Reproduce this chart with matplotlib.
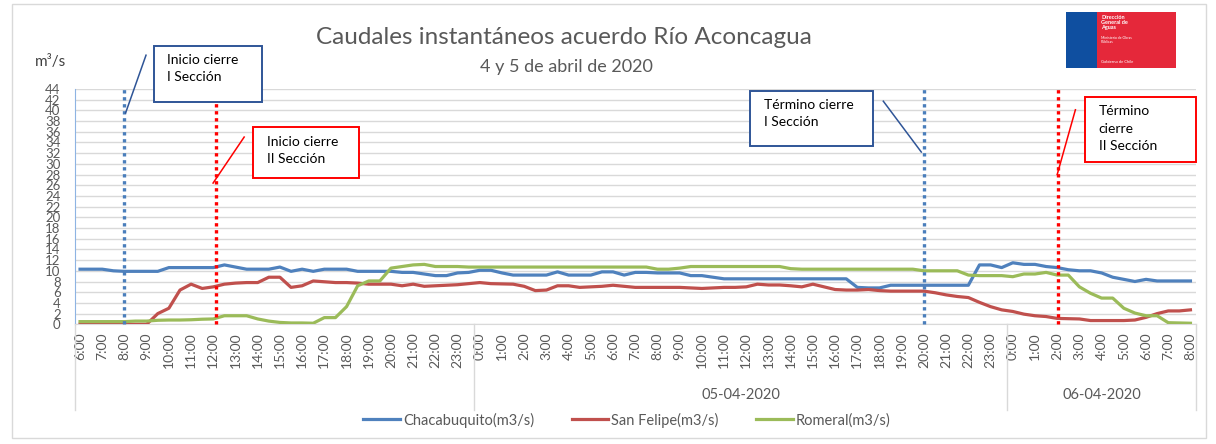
import numpy as np
import matplotlib
matplotlib.use("Agg")
import matplotlib.pyplot as plt
from matplotlib.patches import Rectangle
from matplotlib.transforms import blended_transform_factory

plt.rcParams['font.family'] = ['Lato', 'DejaVu Sans']

# half-hourly readings, 04-04-2020 06:00 -> 06-04-2020 08:00 (m3/s)
chacabuquito = [
    10.3, 10.3, 10.3, 10.0, 9.9, 9.9, 9.9, 9.9, 10.6, 10.6, 10.6, 10.6, 10.6, 11.1,
    10.7, 10.3, 10.3, 10.3, 10.7, 9.9, 10.3, 9.9, 10.3, 10.3, 10.3, 9.9, 9.9, 9.9,
    9.9, 9.7, 9.7, 9.4, 9.1, 9.1, 9.6, 9.7,
    10.1, 10.1, 9.6, 9.2, 9.2, 9.2, 9.2, 9.8, 9.2, 9.2, 9.2, 9.8, 9.8, 9.2,
    9.7, 9.7, 9.6, 9.6, 9.6, 9.1, 9.1, 8.8, 8.5, 8.5, 8.5, 8.5, 8.5, 8.5,
    8.5, 8.5, 8.5, 8.5, 8.5, 8.5, 6.9, 6.8, 6.8, 7.3, 7.3, 7.3, 7.3, 7.3,
    7.3, 7.3, 7.3, 11.1, 11.1, 10.6,
    11.5, 11.2, 11.2, 10.8, 10.6, 10.2, 10.0, 10.0, 9.6, 8.8, 8.4, 8.0, 8.4, 8.1,
    8.1, 8.1, 8.1,
]
san_felipe = [
    0.0, 0.0, 0.0, 0.0, 0.0, 0.0, 0.0, 2.0, 3.0, 6.4, 7.5, 6.7, 7.0, 7.5,
    7.7, 7.8, 7.8, 8.8, 8.8, 6.9, 7.2, 8.1, 7.95, 7.8, 7.8, 7.7, 7.5, 7.5,
    7.5, 7.2, 7.5, 7.1, 7.2, 7.3, 7.4, 7.6,
    7.8, 7.6, 7.55, 7.5, 7.1, 6.3, 6.4, 7.2, 7.2, 6.9, 7.0, 7.1, 7.3, 7.1,
    6.9, 6.9, 6.9, 6.9, 6.9, 6.8, 6.7, 6.8, 6.9, 6.9, 7.0, 7.5, 7.35, 7.35,
    7.2, 7.0, 7.5, 7.0, 6.5, 6.4, 6.4, 6.5, 6.3, 6.2, 6.2, 6.2, 6.2, 5.9,
    5.5, 5.2, 5.0, 4.1, 3.3, 2.7,
    2.4, 1.9, 1.6, 1.45, 1.1, 1.05, 1.0, 0.7, 0.7, 0.7, 0.7, 0.8, 1.3, 2.0,
    2.5, 2.5, 2.7,
]
romeral = [
    0.5, 0.5, 0.5, 0.5, 0.5, 0.6, 0.6, 0.75, 0.8, 0.8, 0.85, 0.95, 1.0, 1.6,
    1.6, 1.6, 1.0, 0.6, 0.35, 0.25, 0.25, 0.2, 1.25, 1.25, 3.3, 7.2, 8.1, 8.1,
    10.5, 10.8, 11.1, 11.2, 10.8, 10.8, 10.8, 10.7,
    10.7, 10.7, 10.7, 10.7, 10.7, 10.7, 10.7, 10.7, 10.7, 10.7, 10.7, 10.7, 10.7, 10.7,
    10.7, 10.7, 10.3, 10.3, 10.5, 10.8, 10.8, 10.8, 10.8, 10.8, 10.8, 10.8, 10.8, 10.8,
    10.4, 10.3, 10.3, 10.3, 10.3, 10.3, 10.3, 10.3, 10.3, 10.3, 10.3, 10.3, 10.0, 10.0,
    10.0, 10.0, 9.2, 9.1, 9.1, 9.1,
    8.9, 9.4, 9.4, 9.7, 9.2, 9.2, 7.0, 5.8, 4.9, 4.9, 3.0, 2.1, 1.6, 1.6,
    0.3, 0.25, 0.2,
]
series_names = ['Chacabuquito(m3/s)', 'San Felipe(m3/s)', 'Romeral(m3/s)']
series_colors = ['#4f81bd', '#c0504d', '#9bbb59']

hour_labels = ([f"{h}:00" for h in range(6, 24)] + [f"{h}:00" for h in range(0, 24)]
               + [f"{h}:00" for h in range(0, 9)])
day_labels = ['05-04-2020', '06-04-2020']
day_bounds = [-0.25, 17.75, 41.75, 50.25]   # hours since 04-04 06:00

# closure events (hours since 04-04 06:00)
event_x = [2.0, 6.1, 38.0, 44.05]
event_top = [44, 43, 44, 44]
event_colors = ['#4a7ebb', '#ff0000', '#4a7ebb', '#ff0000']

W, H = 1216, 444
fig = plt.figure(figsize=(W / 100, H / 100), dpi=100)
ax = fig.add_axes([74.5 / W, 1 - 324.3 / H, (1196 - 74.5) / W, (324.3 - 88.9) / H])

t = np.arange(len(chacabuquito)) * 0.5
for vals, name, col in zip([chacabuquito, san_felipe, romeral], series_names, series_colors):
    ax.plot(t, vals, color=col, lw=2.3, label=name, solid_joinstyle='round', zorder=3)

for x, top, col in zip(event_x, event_top, event_colors):
    ax.plot([x, x], [0, top], color=col, lw=2.4, linestyle=(0, (1, 1.1)),
            dash_capstyle='butt', zorder=4, clip_on=False)

ax.set_xlim(-0.25, 50.25)
ax.set_ylim(0, 44)
ax.set_yticks(range(0, 45, 2))
ax.tick_params(axis='y', length=0, labelsize=9.5, labelcolor='#595959', pad=10)
ax.set_xticks(range(51))
ax.set_xticklabels(hour_labels, rotation=90, fontsize=10, color='#595959')
ax.tick_params(axis='x', length=0, pad=6)
ax.grid(axis='y', color='#d9d9d9', lw=1)
ax.set_axisbelow(True)
for s in ['top', 'right']:
    ax.spines[s].set_visible(False)
ax.spines['left'].set_color('#8eb4e3')
ax.spines['bottom'].set_color('#d9d9d9')

# category separators and date labels
tr = blended_transform_factory(ax.transData, ax.transAxes)
for b in day_bounds:
    ax.plot([b, b], [0, -0.365], color='#d9d9d9', lw=1, transform=tr, clip_on=False)
for i, lab in enumerate(day_labels):
    xc = (day_bounds[i + 1] + day_bounds[i + 2]) / 2
    ax.text(xc, -0.30, lab, transform=tr, ha='center', va='center', fontsize=10.5,
            color='#595959')


def callout(x0, y0, x1, y1, lines, tx, ty, line, color):
    ax.add_patch(Rectangle((x0, y0), x1 - x0, y1 - y0, fc='white', ec=color, lw=1.4,
                           clip_on=False, zorder=5))
    ax.text(tx, ty, lines, ha='left', va='top', fontsize=10, linespacing=1.55,
            clip_on=False, zorder=6)
    ax.plot(line[0], line[1], color=color, lw=1.1, clip_on=False, zorder=5)


callout(3.33, 41.5, 8.2, 52.0, 'Inicio cierre\nI Sección', 3.92, 50.6,
        ([2.97, 2.05], [50.3, 39.5]), '#2f5597')
callout(7.79, 27.3, 12.57, 36.9, 'Inicio cierre\nII Sección', 8.42, 35.2,
        ([7.39, 5.99], [35.0, 26.4]), '#ff0000')
callout(30.18, 33.3, 35.72, 43.6, 'Término cierre\nI Sección', 30.8, 42.2,
        ([36.17, 37.88], [41.7, 32.2]), '#2f5597')
callout(45.23, 30.3, 50.23, 42.5, 'Término\ncierre\nII Sección', 45.86, 40.9,
        ([44.82, 44.0], [40.1, 28.0]), '#ff0000')

fig.text(564 / W, 1 - 38 / H, 'Caudales instantáneos acuerdo Río Aconcagua',
         ha='center', va='center', fontsize=17.5, color='#595959')
fig.text(566 / W, 1 - 67 / H, '4 y 5 de abril de 2020', ha='center', va='center',
         fontsize=13, color='#595959')
fig.text(35 / W, 1 - 62 / H, 'm³/s', ha='left', va='center', fontsize=11, color='#404040')

# logo
fig.patches.append(Rectangle((1066 / W, 1 - 68 / H), 31 / W, 56 / H, fc='#0f4fa0',
                             transform=fig.transFigure))
fig.patches.append(Rectangle((1097 / W, 1 - 68 / H), 79 / W, 56 / H, fc='#e5283a',
                             transform=fig.transFigure))
fig.text(1101 / W, 1 - 15 / H, 'Dirección\nGeneral de\nAguas', ha='left', va='top',
         fontsize=4, color='white', fontweight='bold', linespacing=1.0)
fig.text(1101 / W, 1 - 36 / H, 'Ministerio de Obras\nPúblicas', ha='left', va='top',
         fontsize=2.5, color='white', linespacing=1.0)
fig.text(1101 / W, 1 - 62 / H, 'Gobierno de Chile', ha='left', va='center',
         fontsize=3, color='white')

# chart border
fig.patches.append(Rectangle((12 / W, 1 - 438 / H), 1194 / W, 434 / H, fill=False,
                             ec='#d9d9d9', lw=1, transform=fig.transFigure))

fig.legend(loc='center', bbox_to_anchor=(627 / W, 1 - 420 / H), ncol=3, frameon=False,
           fontsize=10.5, handlelength=2.5, columnspacing=2.6, handletextpad=0.2,
           labelcolor='#595959')

fig.savefig('out.png', dpi=100)
